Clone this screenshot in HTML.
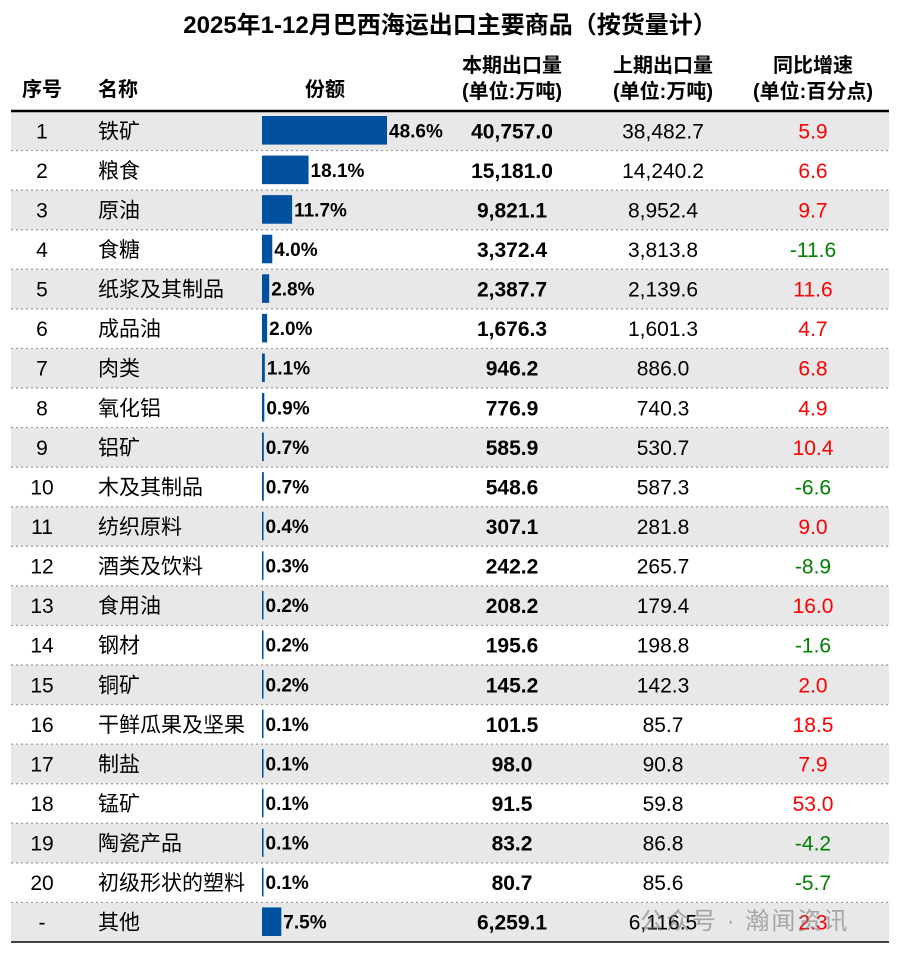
<!DOCTYPE html>
<html><head><meta charset="utf-8"><style>
body{margin:0;width:900px;height:955px;background:#fff;font-family:"Liberation Sans","Noto Sans CJK SC",sans-serif;position:relative;overflow:hidden}
.t{position:absolute;white-space:nowrap}
</style></head><body>
<div class="t" style="left:0;width:900px;text-align:center;top:5px;font-size:24px;font-weight:bold">2025年1-12月巴西海运出口主要商品（按货量计）</div>
<svg id="tbl" width="900" height="955" style="position:absolute;left:0;top:0"></svg>
<div class="t" style="left:640px;top:901px;font-size:24px;letter-spacing:2px;color:rgba(120,120,120,0.6)">公众号 · 瀚闻资讯</div>
<script>
const seqs=["1","2","3","4","5","6","7","8","9","10","11","12","13","14","15","16","17","18","19","20","-"];
const names=["铁矿","粮食","原油","食糖","纸浆及其制品","成品油","肉类","氧化铝","铝矿","木及其制品","纺织原料","酒类及饮料","食用油","钢材","铜矿","干鲜瓜果及坚果","制盐","锰矿","陶瓷产品","初级形状的塑料","其他"];
const shares=[48.6,18.1,11.7,4.0,2.8,2.0,1.1,0.9,0.7,0.7,0.4,0.3,0.2,0.2,0.2,0.1,0.1,0.1,0.1,0.1,7.5];
const current=["40,757.0","15,181.0","9,821.1","3,372.4","2,387.7","1,676.3","946.2","776.9","585.9","548.6","307.1","242.2","208.2","195.6","145.2","101.5","98.0","91.5","83.2","80.7","6,259.1"];
const previous=["38,482.7","14,240.2","8,952.4","3,813.8","2,139.6","1,601.3","886.0","740.3","530.7","587.3","281.8","265.7","179.4","198.8","142.3","85.7","90.8","59.8","86.8","85.6","6,116.5"];
const growth=[5.9,6.6,9.7,-11.6,11.6,4.7,6.8,4.9,10.4,-6.6,9.0,-8.9,16.0,-1.6,2.0,18.5,7.9,53.0,-4.2,-5.7,2.3];

const svg=document.getElementById('tbl');const NS="http://www.w3.org/2000/svg";
const top0=111,bottom=942,L=11,R=889;const rh=(bottom-top0)/seqs.length;
const barX=262,pxPer=125/48.6;
function el(tag,attrs,txt){const e=document.createElementNS(NS,tag);for(const k in attrs)e.setAttribute(k,attrs[k]);if(txt!==undefined)e.textContent=txt;svg.appendChild(e);return e;}
const ff='"Liberation Sans","Noto Sans CJK SC",sans-serif';
const hs=[["序号",42,"middle",[89]],["名称",98,"start",[89]],["份额",325,"middle",[89]],["本期出口量|(单位:万吨)",512,"middle",[65,91]],["上期出口量|(单位:万吨)",663,"middle",[65,91]],["同比增速|(单位:百分点)",813,"middle",[65,91]]];
hs.forEach((h)=>{h[0].split('|').forEach((p,j)=>{const t=el('text',{x:h[1],y:h[3][j]+7,'text-anchor':h[2],'font-size':20,'font-weight':'bold','font-family':ff},p);

});});
seqs.forEach((s,i)=>{const y=top0+i*rh;
if(i%2===0){const bg=el('rect',{x:L,y:y,width:R-L,height:rh,fill:'#e8e8e8'});}
if(i>0){const ln=el('line',{x1:L,x2:R,y1:y,y2:y,stroke:'#999','stroke-dasharray':'2,3','stroke-width':1.2});}
const cy=y+rh/2+7.5;
let t=el('text',{x:42,y:cy,'text-anchor':'middle','font-size':21,'font-family':ff},s);
t=el('text',{x:98,y:cy,'font-size':21,'font-family':ff},names[i]);
const w=Math.max(shares[i]*pxPer,1.5);
const b=el('rect',{x:barX,y:y+5,width:w,height:rh-11,fill:'#0050a0'});
t=el('text',{x:barX+w+2,y:cy-1,'font-size':19,'font-weight':'bold','font-family':ff},shares[i].toFixed(1)+'%');
t=el('text',{x:512,y:cy,'text-anchor':'middle','font-size':21,'font-weight':'bold','font-family':ff},current[i]);
t=el('text',{x:663,y:cy,'text-anchor':'middle','font-size':21,'font-family':ff},previous[i]);
t=el('text',{x:813,y:cy,'text-anchor':'middle','font-size':21,'font-family':ff,fill:growth[i]<0?'#008000':'#ff0000'},growth[i].toFixed(1));
});
let ln=el('line',{x1:L,x2:R,y1:top0,y2:top0,stroke:'#000','stroke-width':2.5});
ln=el('line',{x1:L,x2:R,y1:bottom,y2:bottom,stroke:'#444','stroke-width':2});
</script>
</body></html>
